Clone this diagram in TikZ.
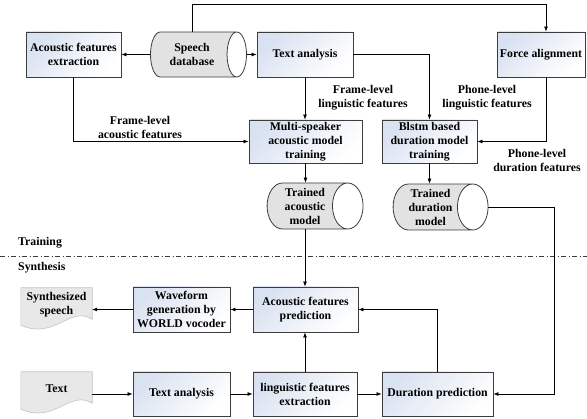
\documentclass[tikz,border=0pt]{standalone}
\usepackage{fontspec}
\setmainfont{Liberation Serif}
\usepackage{tikz}
\usetikzlibrary{arrows.meta}
\usetikzlibrary{shapes.geometric}
\usetikzlibrary{backgrounds}
\definecolor{box-blue}{HTML}{D9E2F1}
\definecolor{box-line}{HTML}{3C3C3C}
\definecolor{db-fill}{HTML}{E2E2E2}
\definecolor{doc-fill}{HTML}{E8E8E8}
\definecolor{doc-line}{HTML}{C4C4C4}

\begin{document}
\begin{tikzpicture}[
    x=1pt, y=-1pt,
    >={Latex[length=5pt,width=4pt]},
    every node/.style={font=\fontsize{11.8}{14}\selectfont\bfseries, align=center},
    % Shapes of the flow chart
    boxstyle/.style={draw=box-line, line width=0.9pt, top color=box-blue, bottom color=white, shading angle=45, minimum height=45pt, inner sep=1pt},
    dbstyle/.style={cylinder, draw=box-line, line width=0.8pt, cylinder uses custom fill, cylinder body fill=db-fill, cylinder end fill=white, aspect=0.8, minimum width=45pt, inner sep=1pt},
    docstyle/.style={minimum width=71pt, minimum height=34pt, inner sep=1pt},
    flow/.style={->, line width=0.7pt},
    labelstyle/.style={inner sep=0pt},
    phasestyle/.style={anchor=west, inner sep=0pt}
  ]
  \useasboundingbox (0,0) rectangle (587,419);

  % =========================================================================
  % TRAINING
  % =========================================================================
  \node[boxstyle, minimum width=95pt] (aext) at (73.5,54.5) {Acoustic features\\extraction};
  \node[dbstyle, minimum height=96pt] (sdb) at (192,54.5) {Speech\\database};
  \node[boxstyle, minimum width=96pt] (ta1) at (305,54.5) {Text analysis};
  \node[boxstyle, minimum width=88pt] (fa) at (541,54.5) {Force alignment};

  \node[boxstyle, minimum width=113pt, minimum height=43pt] (ms) at (305.5,141.5) {Multi-speaker\\acoustic model\\training};
  \node[boxstyle, minimum width=95pt, minimum height=43pt] (bl) at (429.5,141.5) {Blstm based\\duration model\\training};

  \node[dbstyle, minimum height=96pt, minimum width=46pt] (tam) at (305,206) {Trained\\acoustic\\model};
  \node[dbstyle, minimum height=95pt, minimum width=46pt] (tdm) at (430.5,207) {Trained\\duration\\model};

  \node[labelstyle] (lab-fac) at (140,127) {Frame-level\\acoustic features};
  \node[labelstyle] (lab-fli) at (363,98) {Frame-level\\linguistic features};
  \node[labelstyle] (lab-pli) at (487,98) {Phone-level\\linguistic features};
  \node[labelstyle] (lab-pdu) at (537,160) {Phone-level\\duration features};

  \draw[flow] (sdb.west) -- (aext.east);
  \draw[flow] (sdb.east) -- (ta1.west);
  \draw[flow] (sdb.north) -- ++(0,-27) -| ([xshift=5pt]fa.north);
  \draw[flow] (ta1.south) -- (ta1.south |- ms.north);
  \draw[flow] (ta1.east) -| (bl.north);
  \draw[flow] (aext.south) |- (ms.west);
  \draw[flow] ([xshift=5pt]fa.south) |- (bl.east);
  \draw[flow] (ms.south) -- (ms.south |- tam.north);
  \draw[flow] (bl.south) -- (bl.south |- tdm.north);

  % =========================================================================
  % PHASE DIVIDER
  % =========================================================================
  \draw[box-line, line width=0.6pt, dash pattern=on 5pt off 2.5pt on 1pt off 2.5pt] (0,256) -- (587,256);
  \node[phasestyle] (train) at (18,243) {Training};
  \node[phasestyle] (synth) at (18,268) {Synthesis};

  % =========================================================================
  % SYNTHESIS
  % =========================================================================
  \node[docstyle] (ss) at (56.5,305) {Synthesized\\speech};
  \node[boxstyle, minimum width=97pt] (wg) at (181.5,309.5) {Waveform\\generation by\\WORLD vocoder};
  \node[boxstyle, minimum width=105pt] (afp) at (305.5,309.5) {Acoustic features\\prediction};

  \node[docstyle] (tx) at (56.5,389) {Text};
  \node[boxstyle, minimum width=97pt, minimum height=44pt] (ta2) at (181.5,394) {Text analysis};
  \node[boxstyle, minimum width=104pt, minimum height=44pt] (lfe) at (305,394) {linguistic features\\extraction};
  \node[boxstyle, minimum width=111pt, minimum height=44pt] (dp) at (437.5,394) {Duration prediction};

  % document outlines with wavy bottom
  \begin{scope}[on background layer]
    \foreach \d in {ss,tx} {
      \filldraw[fill=doc-fill, draw=doc-line, line width=0.6pt] (\d.north west) -- (\d.north east) -- ([yshift=3pt]\d.south east)
        .. controls +(-22,-14) and +(34,15) .. ([yshift=-3pt]\d.south west) -- cycle;
    }
  \end{scope}

  \draw[flow] (tam.south) -- (tam.south |- afp.north);
  \draw[flow] (tdm.east) -- ++(66,0) |- (dp.east);
  \draw[flow] (afp.west) -- (wg.east);
  \draw[flow] (wg.west) -- (wg.west -| ss.east);
  \draw[flow] (ta2.west -| tx.east) -- (ta2.west);
  \draw[flow] (ta2.east) -- (lfe.west);
  \draw[flow] (lfe.east) -- (dp.west);
  \draw[flow] (lfe.north) -- (lfe.north |- afp.south);
  \draw[flow] (dp.north) |- (afp.east);

\end{tikzpicture}
\end{document}
